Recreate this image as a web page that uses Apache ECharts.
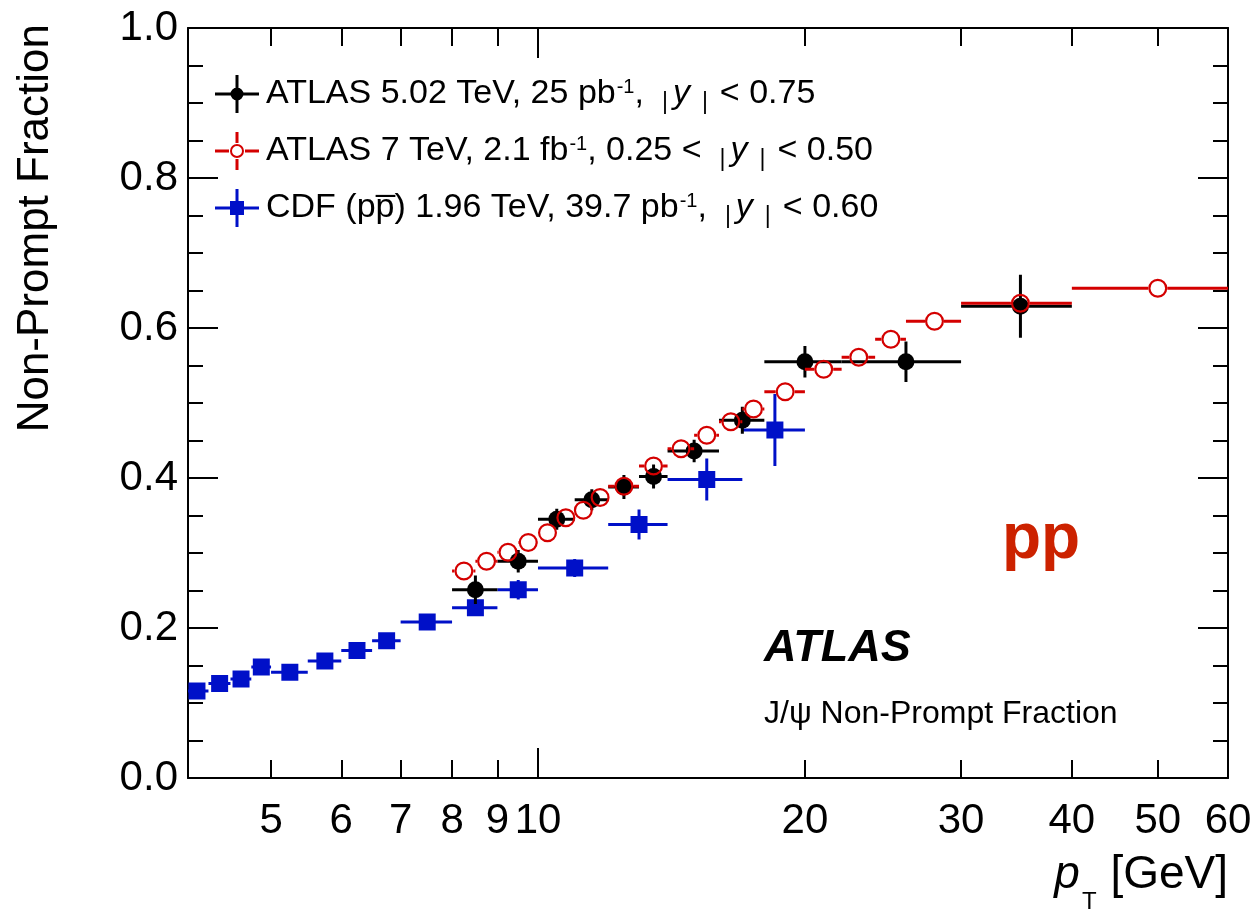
<!DOCTYPE html>
<html>
<head>
<meta charset="utf-8">
<script src="https://cdn.jsdelivr.net/npm/echarts@6/dist/echarts.min.js"></script>
<style>html,body{margin:0;padding:0;background:#fff}#chart{width:1256px;height:911px}</style>
</head>
<body>
<div id="chart"></div>
<script>
const FONT = '"Liberation Sans", Arimo, Helvetica, Arial, sans-serif';

// ---- CDF (p pbar) 1.96 TeV ----
const cdfPt  = [4.125, 4.375, 4.625, 4.875, 5.25, 5.75, 6.25, 6.75, 7.5, 8.5, 9.5, 11, 13, 15.5, 18.5];
const cdfLo  = [4.0, 4.25, 4.5, 4.75, 5.0, 5.5, 6.0, 6.5, 7.0, 8.0, 9.0, 10, 12, 14, 17];
const cdfHi  = [4.25, 4.5, 4.75, 5.0, 5.5, 6.0, 6.5, 7.0, 8.0, 9.0, 10, 12, 14, 17, 20];
const cdfVal = [0.116, 0.126, 0.132, 0.148, 0.141, 0.156, 0.170, 0.183, 0.208, 0.227, 0.251, 0.280, 0.338, 0.398, 0.464];
const cdfErr = [0.006, 0.006, 0.006, 0.007, 0.007, 0.007, 0.007, 0.008, 0.008, 0.010, 0.013, 0.012, 0.020, 0.028, 0.048];

// ---- ATLAS 5.02 TeV ----
const a5Pt  = [8.5, 9.5, 10.5, 11.5, 12.5, 13.5, 15, 17, 20, 26, 35];
const a5Lo  = [8, 9, 10, 11, 12, 13, 14, 16, 18, 22, 30];
const a5Hi  = [9, 10, 11, 12, 13, 14, 16, 18, 22, 30, 40];
const a5Val = [0.251, 0.289, 0.345, 0.371, 0.388, 0.402, 0.436, 0.477, 0.555, 0.555, 0.629];
const a5Err = [0.019, 0.015, 0.014, 0.014, 0.016, 0.016, 0.015, 0.018, 0.021, 0.027, 0.042];

// ---- ATLAS 7 TeV ----
const a7Pt  = [8.25, 8.75, 9.25, 9.75, 10.25, 10.75, 11.25, 11.75, 12.5, 13.5, 14.5, 15.5, 16.5, 17.5, 19, 21, 23, 25, 28, 35, 50];
const a7Lo  = [8, 8.5, 9, 9.5, 10, 10.5, 11, 11.5, 12, 13, 14, 15, 16, 17, 18, 20, 22, 24, 26, 30, 40];
const a7Hi  = [8.5, 9, 9.5, 10, 10.5, 11, 11.5, 12, 13, 14, 15, 16, 17, 18, 20, 22, 24, 26, 30, 40, 60];
const a7Val = [0.276, 0.289, 0.301, 0.314, 0.327, 0.347, 0.357, 0.374, 0.389, 0.416, 0.439, 0.457, 0.475, 0.492, 0.515, 0.545, 0.561, 0.585, 0.609, 0.633, 0.653];
const a7Err = [0.004, 0.004, 0.004, 0.004, 0.004, 0.004, 0.004, 0.004, 0.004, 0.005, 0.005, 0.005, 0.005, 0.005, 0.005, 0.005, 0.006, 0.006, 0.006, 0.008, 0.012];

// ---- axes ----
const xMin = 4.03, xMax = 60;
const xMajorTicks = [10];
const xMinorTicks = [5, 6, 7, 8, 9, 20, 30, 40, 50];
const xTickLabels = [5, 6, 7, 8, 9, 10, 20, 30, 40, 50, 60];
const yMin = 0, yMax = 1, yStep = 0.2;

const NAME_A5 = 'ATLAS 5.02 TeV, 25 pb\u207B\u00B9, |y| < 0.75';
const NAME_A7 = 'ATLAS 7 TeV, 2.1 fb\u207B\u00B9, 0.25 < |y| < 0.50';
const NAME_CDF = 'CDF (pp\u0305) 1.96 TeV, 39.7 pb\u207B\u00B9, |y| < 0.60';

const ABS_Y = '{bl||}{it|y}{br||}';
const legendRichText = {};
legendRichText[NAME_A5] = '{n|ATLAS 5.02 TeV, 25 pb}{sup|-1}{n|,}' + ABS_Y + '{n|< 0.75}';
legendRichText[NAME_A7] = '{n|ATLAS 7 TeV, 2.1 fb}{sup|-1}{n|, 0.25 <}' + ABS_Y + '{n|< 0.50}';
legendRichText[NAME_CDF] = '{n|CDF (pp\u0305) 1.96 TeV, 39.7 pb}{sup|-1}{n|,}' + ABS_Y + '{n|< 0.60}';

const COL_BLACK = '#000000', COL_RED = '#d40000', COL_BLUE = '#0010c8';

function rows(pt, val, lo, hi, err) {
  return pt.map((p, i) => [p, val[i], lo[i], hi[i], err[i]]);
}

function makeRenderer(kind) {
  return function (params, api) {
    const x = api.value(0), y = api.value(1), lo = api.value(2), hi = api.value(3), e = api.value(4);
    const c = api.coord([x, y]);
    const pl = api.coord([lo, y]), ph = api.coord([hi, y]);
    const pt = api.coord([x, y + e]), pb = api.coord([x, y - e]);
    const color = api.visual('color');
    const children = [];
    const seg = (x1, y1, x2, y2) => children.push({
      type: 'line', shape: { x1, y1, x2, y2 }, style: { stroke: color, lineWidth: 3 }
    });
    if (kind === 'open') {
      const g = 9.5;
      if (c[0] - g > pl[0]) seg(pl[0], c[1], c[0] - g, c[1]);
      if (ph[0] > c[0] + g) seg(c[0] + g, c[1], ph[0], c[1]);
      if (pt[1] < c[1] - g) seg(c[0], pt[1], c[0], c[1] - g);
      if (pb[1] > c[1] + g) seg(c[0], c[1] + g, c[0], pb[1]);
      children.push({ type: 'circle', shape: { cx: c[0], cy: c[1], r: 8.4 },
        style: { fill: 'none', stroke: color, lineWidth: 2.2 } });
    } else {
      seg(pl[0], c[1], ph[0], c[1]);
      seg(c[0], pt[1], c[0], pb[1]);
      if (kind === 'dot') {
        children.push({ type: 'circle', shape: { cx: c[0], cy: c[1], r: 8.5 }, style: { fill: color } });
      } else {
        children.push({ type: 'rect', shape: { x: c[0] - 8.5, y: c[1] - 8.5, width: 17, height: 17 }, style: { fill: color } });
      }
    }
    return { type: 'group', children };
  };
}

const ICON_DOT = 'path://M0,17.5 L44,17.5 L44,20.5 L0,20.5 Z M20.5,0 L23.5,0 L23.5,38 L20.5,38 Z M15.5,19 A6.5,6.5 0 1,1 28.5,19 A6.5,6.5 0 1,1 15.5,19 Z';
const ICON_OPEN = 'path://M0,17.5 L14,17.5 L14,20.5 L0,20.5 Z M30,17.5 L44,17.5 L44,20.5 L30,20.5 Z M20.5,0 L23.5,0 L23.5,11 L20.5,11 Z M20.5,27 L23.5,27 L23.5,38 L20.5,38 Z M15,19 A7,7 0 1,1 29,19 A7,7 0 1,1 15,19 Z M17,19 A5,5 0 1,0 27,19 A5,5 0 1,0 17,19 Z';
const ICON_SQ = 'path://M0,17.5 L44,17.5 L44,20.5 L0,20.5 Z M20.5,0 L23.5,0 L23.5,38 L20.5,38 Z M15,12 L29,12 L29,26 L15,26 Z';

const tickLine = { color: '#000', width: 2 };
const baseX = { type: 'log', logBase: 10, min: xMin, max: xMax, gridIndex: 0, splitLine: { show: false } };
function xAxisDef(position, ticks, len, showLine, showLabels) {
  return Object.assign({}, baseX, {
    position,
    axisLine: { show: showLine, lineStyle: { color: '#000', width: 2 } },
    axisTick: { show: true, inside: true, length: len, customValues: ticks, lineStyle: tickLine },
    axisLabel: showLabels ? {
      show: true, customValues: xTickLabels, fontSize: 42, fontFamily: FONT, color: '#000', margin: 22,
      formatter: v => String(Math.round(v))
    } : { show: false },
    minorTick: { show: false }
  });
}
function yAxisDef(position, showLabels) {
  return {
    type: 'value', position, min: yMin, max: yMax, interval: yStep,
    splitLine: { show: false },
    axisLine: { show: true, lineStyle: { color: '#000', width: 2 } },
    axisTick: { show: true, inside: true, length: 30, lineStyle: tickLine },
    minorTick: { show: true, splitNumber: 4, length: 15, lineStyle: tickLine },
    axisLabel: showLabels ? {
      show: true, fontSize: 42, fontFamily: FONT, color: '#000', margin: 10,
      formatter: v => v.toFixed(1)
    } : { show: false }
  };
}

const option = {
  backgroundColor: '#ffffff',
  animation: false,
  textStyle: { fontFamily: FONT },
  grid: { left: 188, right: 28, top: 28, bottom: 133, containLabel: false, outerBoundsMode: 'none' },
  legend: {
    orient: 'vertical', left: 215, top: 74, padding: 0,
    itemWidth: 44, itemHeight: 38, itemGap: 17,
    selectedMode: false,
    data: [
      { name: NAME_A5, icon: ICON_DOT, itemStyle: { color: COL_BLACK } },
      { name: NAME_A7, icon: ICON_OPEN, itemStyle: { color: COL_RED } },
      { name: NAME_CDF, icon: ICON_SQ, itemStyle: { color: COL_BLUE } }
    ],
    formatter: name => legendRichText[name] || name,
    textStyle: {
      fontFamily: FONT, color: '#000', fontSize: 34, padding: [0, 0, 0, 2],
      rich: {
        n: { fontSize: 34, fontFamily: FONT, color: '#000', lineHeight: 40 },
        sup: { fontSize: 20, fontFamily: FONT, color: '#000', verticalAlign: 'top', lineHeight: 22, padding: [3, 0, 0, 1] },
        it: { fontSize: 34, fontStyle: 'italic', fontFamily: FONT, color: '#000', lineHeight: 40 },
        bl: { fontSize: 23, fontFamily: FONT, color: '#000', verticalAlign: 'bottom', lineHeight: 23, padding: [0, 5, 0, 18] },
        br: { fontSize: 23, fontFamily: FONT, color: '#000', verticalAlign: 'bottom', lineHeight: 23, padding: [0, 12, 0, 12] }
      }
    }
  },
  xAxis: [
    xAxisDef('bottom', xMinorTicks, 18, true, true),
    xAxisDef('bottom', xMajorTicks, 30, false, false),
    xAxisDef('top', xMinorTicks, 18, true, false),
    xAxisDef('top', xMajorTicks, 30, false, false)
  ],
  yAxis: [yAxisDef('left', true), yAxisDef('right', false)],
  series: [
    {
      name: NAME_CDF, type: 'custom', xAxisIndex: 0, yAxisIndex: 0, clip: true,
      itemStyle: { color: COL_BLUE },
      encode: { x: 0, y: 1 },
      data: rows(cdfPt, cdfVal, cdfLo, cdfHi, cdfErr),
      renderItem: makeRenderer('square')
    },
    {
      name: NAME_A5, type: 'custom', xAxisIndex: 0, yAxisIndex: 0, clip: true,
      itemStyle: { color: COL_BLACK },
      encode: { x: 0, y: 1 },
      data: rows(a5Pt, a5Val, a5Lo, a5Hi, a5Err),
      renderItem: makeRenderer('dot')
    },
    {
      name: NAME_A7, type: 'custom', xAxisIndex: 0, yAxisIndex: 0, clip: true,
      itemStyle: { color: COL_RED },
      encode: { x: 0, y: 1 },
      data: rows(a7Pt, a7Val, a7Lo, a7Hi, a7Err),
      renderItem: makeRenderer('open')
    }
  ],
  graphic: [
    { type: 'text', x: 36, y: 24, rotation: Math.PI / 2,
      style: { text: 'Non-Prompt Fraction', font: '44px ' + FONT, fill: '#000', align: 'right', verticalAlign: 'middle' } },
    { type: 'text', x: 1228, y: 852,
      style: {
        text: '{i|p}{s|T}{n| [GeV]}', align: 'right', verticalAlign: 'top',
        rich: {
          i: { fontSize: 46, fontStyle: 'italic', fontFamily: FONT, fill: '#000', color: '#000', verticalAlign: 'top', lineHeight: 42 },
          s: { fontSize: 24, fontFamily: FONT, fill: '#000', color: '#000', verticalAlign: 'top', lineHeight: 24, padding: [38, 1, 0, 2] },
          n: { fontSize: 46, fontFamily: FONT, fill: '#000', color: '#000', verticalAlign: 'top', lineHeight: 42 }
        }
      } },
    { type: 'text', x: 1002, y: 540,
      style: { text: 'pp', font: 'bold 64px ' + FONT, fill: '#cc2200', align: 'left', verticalAlign: 'middle' } },
    { type: 'text', x: 764, y: 649,
      style: { text: 'ATLAS', font: 'italic bold 45px ' + FONT, fill: '#000', align: 'left', verticalAlign: 'middle' } },
    { type: 'text', x: 764, y: 714,
      style: { text: 'J/\u03C8 Non-Prompt Fraction', font: '32px ' + FONT, fill: '#000', align: 'left', verticalAlign: 'middle' } }
  ]
};

const chart = echarts.init(document.getElementById('chart'), null, { renderer: 'canvas' });
chart.setOption(option);
</script>
</body>
</html>
